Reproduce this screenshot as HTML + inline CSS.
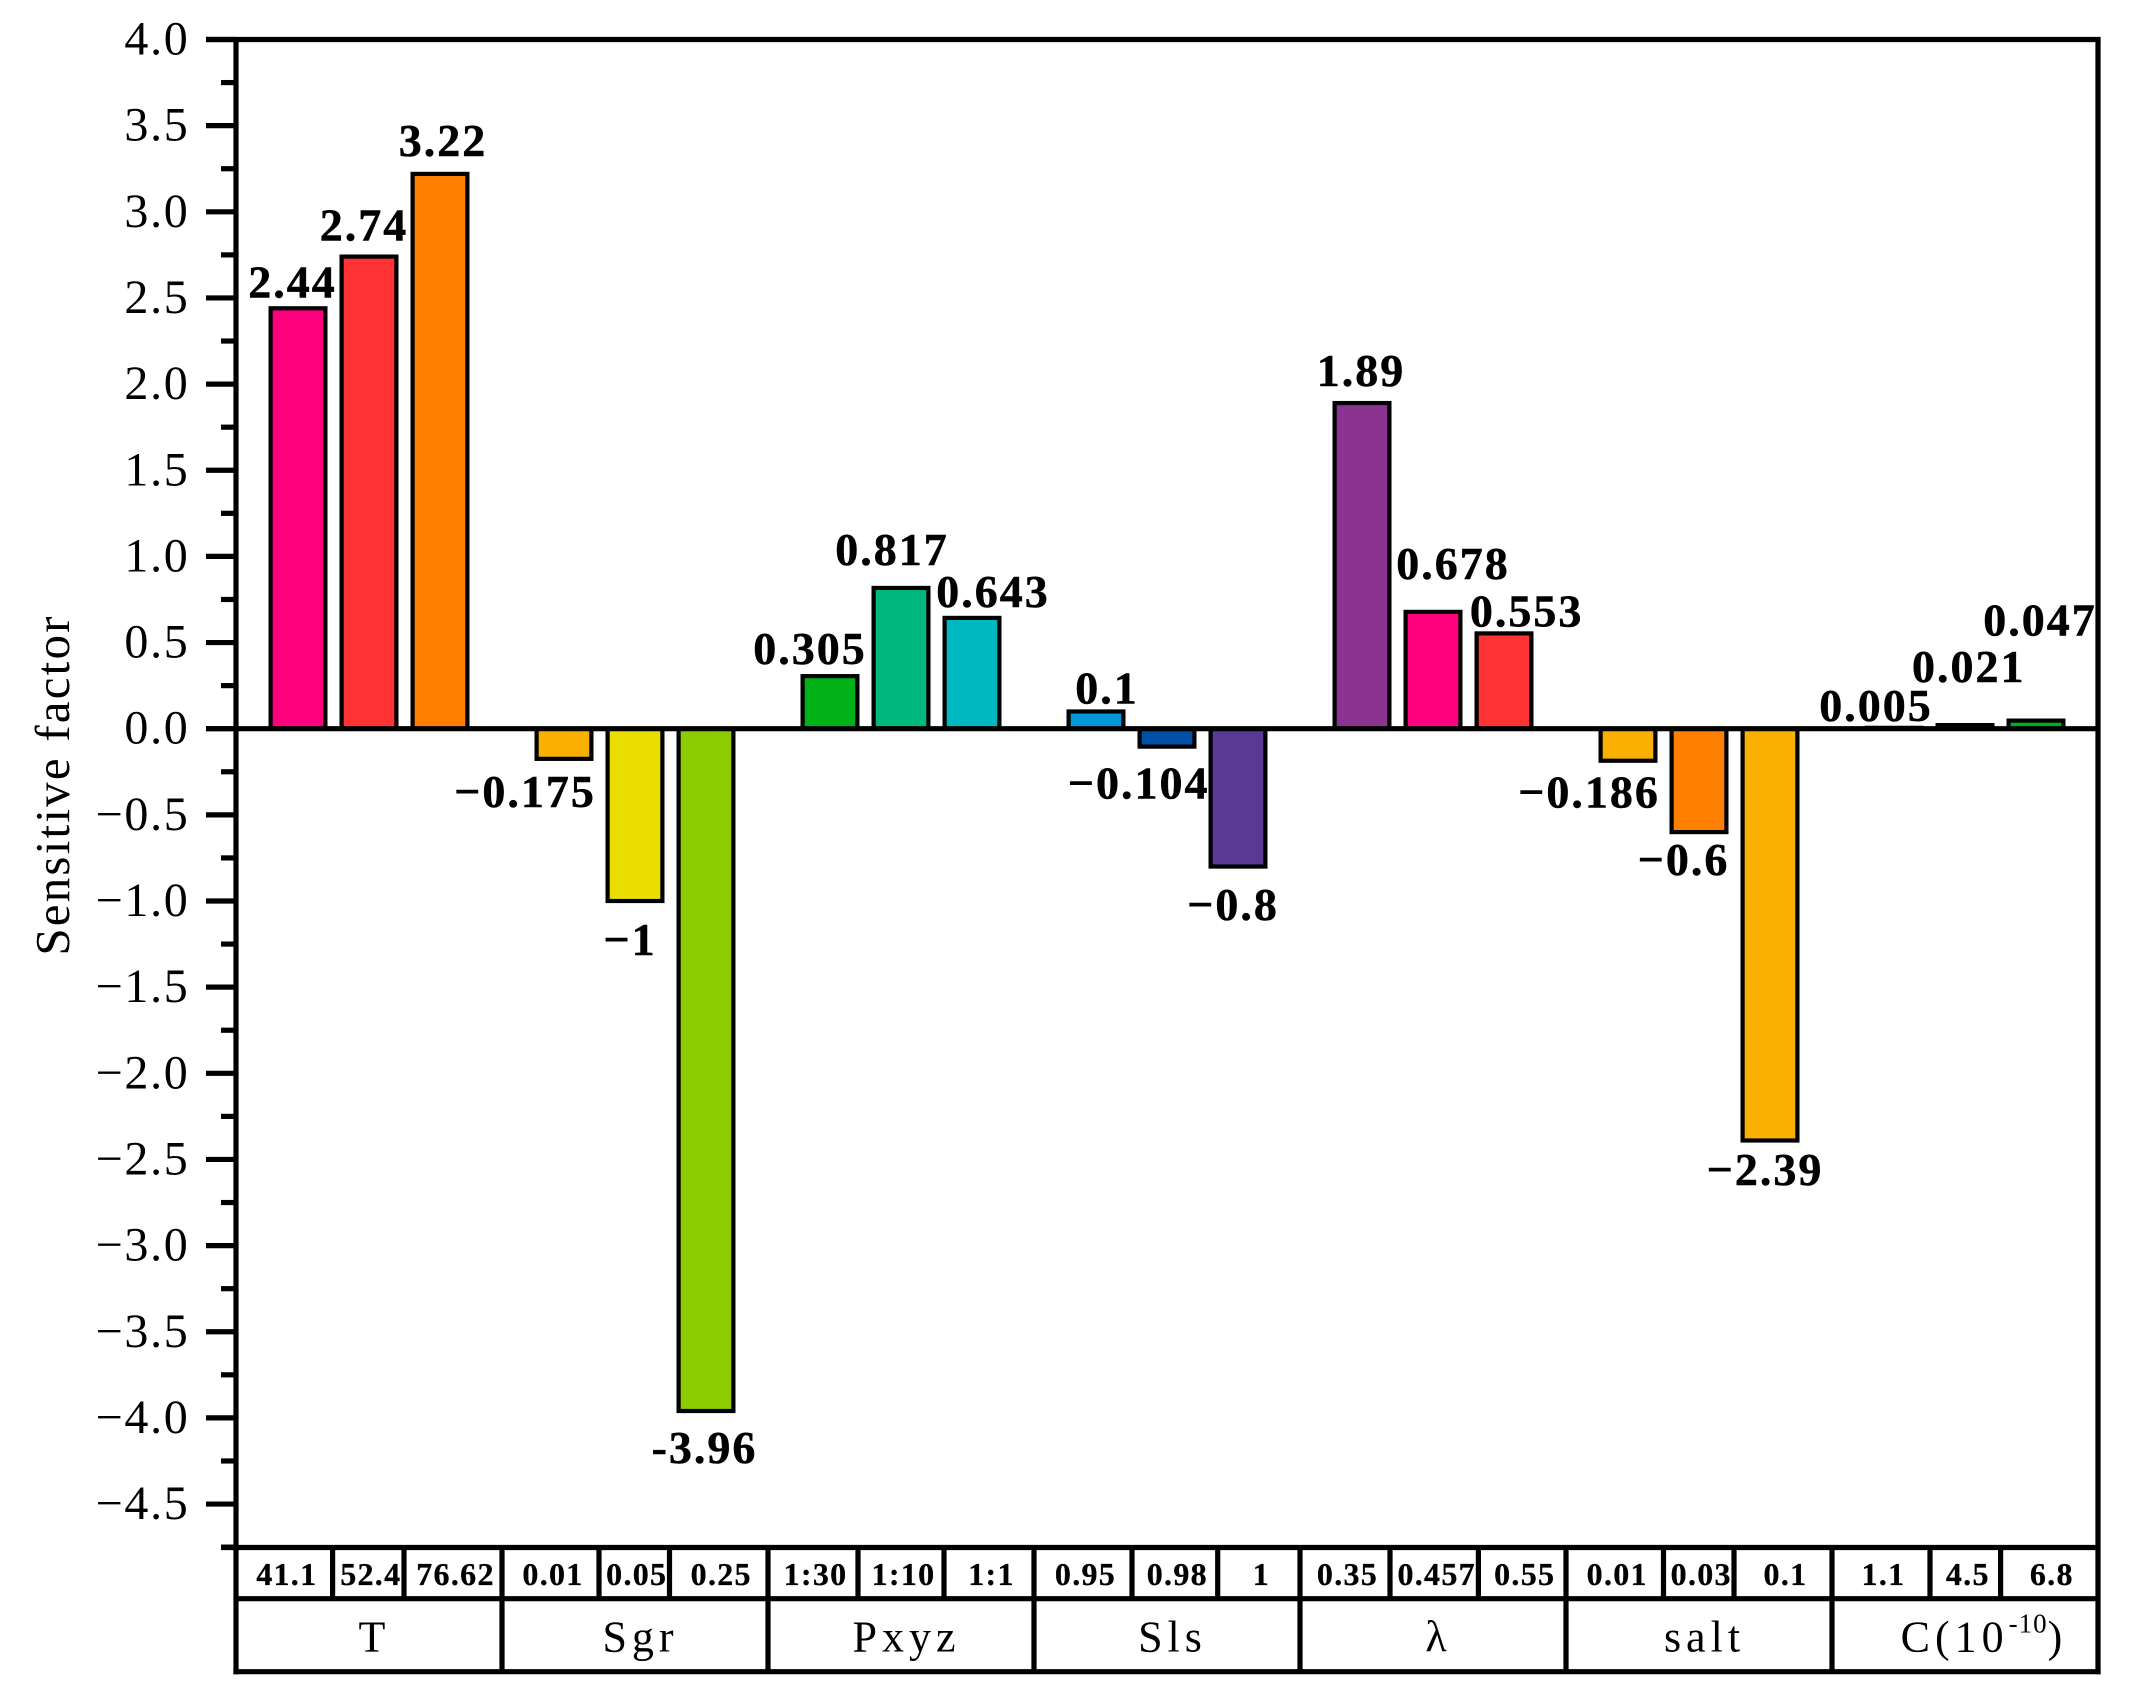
<!DOCTYPE html>
<html lang="en">
<head>
<meta charset="utf-8">
<title>Sensitive factor bar chart</title>
<style>
  html, body { margin: 0; padding: 0; background: #fff; }
  svg { display: block; }
  text { font-family: "Liberation Serif", "DejaVu Serif", serif; fill: #000; }
  .ytick { font-size: 48px; letter-spacing: 1.7px; text-anchor: end; }
  .vlabel { font-size: 46px; font-weight: bold; letter-spacing: 2px; text-anchor: middle; stroke: #000; stroke-width: 0.5px; }
  .sub { font-size: 32px; font-weight: bold; letter-spacing: 1.3px; text-anchor: middle; stroke: #000; stroke-width: 0.3px; }
  .group { font-size: 44px; letter-spacing: 5px; text-anchor: middle; }
</style>
</head>
<body>
<svg id="chart" width="2133" height="1704" viewBox="0 0 2133 1704" xmlns="http://www.w3.org/2000/svg">
  <rect x="0" y="0" width="2133" height="1704" fill="#ffffff"/>
  <g id="bars"></g>
  <g id="axes"></g>
  <g id="value-labels"></g>
  <g id="table"></g>
  <text x="69" y="785" transform="rotate(-90 69 785)" text-anchor="middle" font-size="49" letter-spacing="2.2">Sensitive factor</text>
</svg>
<script>
// ---- chart data ----
const groupNames = ["T", "Sgr", "Pxyz", "Sls", "\u03BB", "salt", "C(10"];
const levelsT = ["41.1", "52.4", "76.62"];
const levelsSgr = ["0.01", "0.05", "0.25"];
const levelsPxyz = ["1:30", "1:10", "1:1"];
const levelsSls = ["0.95", "0.98", "1"];
const levelsLambda = ["0.35", "0.457", "0.55"];
const levelsSalt = ["0.01", "0.03", "0.1"];
const levelsC = ["1.1", "4.5", "6.8"];
const valuesT = [2.44, 2.74, 3.22];
const valuesSgr = [-0.175, -1, -3.96];
const valuesPxyz = [0.305, 0.817, 0.643];
const valuesSls = [0.1, -0.104, -0.8];
const valuesLambda = [1.89, 0.678, 0.553];
const valuesSalt = [-0.186, -0.6, -2.39];
const valuesC = [0.005, 0.021, 0.047];
const printedT = ["2.44", "2.74", "3.22"];
const printedSgr = ["\u22120.175", "\u22121", "-3.96"];
const printedPxyz = ["0.305", "0.817", "0.643"];
const printedSls = ["0.1", "\u22120.104", "\u22120.8"];
const printedLambda = ["1.89", "0.678", "0.553"];
const printedSalt = ["\u22120.186", "\u22120.6", "\u22122.39"];
const printedC = ["0.005", "0.021", "0.047"];
const majorTicks = [4.0, 3.5, 3.0, 2.5, 2.0, 1.5, 1.0, 0.5, 0.0, -0.5, -1.0, -1.5, -2.0, -2.5, -3.0, -3.5, -4.0, -4.5];
const minorTicks = [3.75, 3.25, 2.75, 2.25, 1.75, 1.25, 0.75, 0.25, -0.25, -0.75, -1.25, -1.75, -2.25, -2.75, -3.25, -3.75, -4.25, -4.75];

// ---- styling and layout (not data) ----
const barColors = [
  "#FF007F", "#FF3333", "#FF8000",
  "#F9B000", "#E9DE00", "#8CCC00",
  "#00B218", "#00B87C", "#00B8C0",
  "#0098D8", "#0050A8", "#583A94",
  "#8C3290", "#FF007F", "#FF3333",
  "#F9B000", "#FF8000", "#F9B000",
  "#00B020", "#00B020", "#00B020"
];
// label nudges relative to the top/bottom of each bar
const labelShiftX = [-6.5, -6, 2, -40, -6, -2.5, -21, -10, 20, 10, -29.4, -6, -2, 19, 21.6, -40, -16.5, -6, -19, 2.7, 3];
const labelShiftY = [-11, -16, -18, 48, 54, 52, -12, -23, -11, -8, 52, 53.5, -17, -33, -7, 47, 43, 44.5, -7, -43, -85];
// level-cell divider offsets inside each group of the table
const firstDivider = [96.6, 97, 90, 98, 90, 97.5, 98];
const secondDivider = [168, 167.5, 176, 183.7, 178.4, 168, 168.6];

const allValues = [valuesT, valuesSgr, valuesPxyz, valuesSls, valuesLambda, valuesSalt, valuesC];
const allPrinted = [printedT, printedSgr, printedPxyz, printedSls, printedLambda, printedSalt, printedC];
const allLevels = [levelsT, levelsSgr, levelsPxyz, levelsSls, levelsLambda, levelsSalt, levelsC];

// ---- axis functions ----
const plotLeft = 236, plotRight = 2098, plotTop = 39.5;
const tableTop = 1547.5, tableMid = 1598.7, tableBottom = 1671.7;
const groupWidth = (plotRight - plotLeft) / 7;
const barPitch = 71, barWidth = 54.8, lineW = 5.2;
function y(v) { return 728.7 - 172.3 * v; }
function groupCenter(g) { return plotLeft + groupWidth * (g + 0.5); }
function barCenter(g, b) { return groupCenter(g) + (b - 1) * barPitch; }

const NS = "http://www.w3.org/2000/svg";
function make(tag, attrs, parent, txt) {
  const el = document.createElementNS(NS, tag);
  for (const k in attrs) el.setAttribute(k, attrs[k]);
  if (txt !== undefined) el.textContent = txt;
  parent.appendChild(el);
  return el;
}
function blackLine(x1, y1, x2, y2, parent) {
  return make("line", { x1: x1, y1: y1, x2: x2, y2: y2, stroke: "#000", "stroke-width": lineW }, parent);
}

const barsG = document.getElementById("bars");
const axesG = document.getElementById("axes");
const labelsG = document.getElementById("value-labels");
const tableG = document.getElementById("table");

// bars and value labels
allValues.forEach(function (vals, g) {
  vals.forEach(function (v, b) {
    const i = g * 3 + b;
    const top = Math.min(y(v), y(0));
    const h = Math.abs(y(v) - y(0));
    const rect = make("rect", {
      x: barCenter(g, b) - barWidth / 2, y: top, width: barWidth, height: h,
      fill: barColors[i], stroke: "#000", "stroke-width": 4.2
    }, barsG);
    
    
    const lab = make("text", {
      class: "vlabel", x: barCenter(g, b) + labelShiftX[i] + 1, y: y(v) + labelShiftY[i]
    }, labelsG, allPrinted[g][b]);
    
    
  });
});

// axis frame
const topLine = blackLine(206, plotTop, plotRight + lineW / 2, plotTop, axesG);


const leftLine = blackLine(plotLeft, plotTop, plotLeft, tableBottom + lineW / 2, axesG);


const rightLine = blackLine(plotRight, plotTop, plotRight, tableBottom + lineW / 2, axesG);


const zeroLine = blackLine(206, y(0), plotRight, y(0), axesG);



// ticks
majorTicks.forEach(function (t) {
  const tick = blackLine(206, y(t), plotLeft, y(t), axesG);
  
  
  const s = (t < 0 ? "\u2212" : "") + Math.abs(t).toFixed(1);
  const lab = make("text", { class: "ytick", x: 189.5, y: y(t) + 15 }, axesG, s);
  
  
});
minorTicks.forEach(function (t) {
  const tick = blackLine(221, y(t), plotLeft, y(t), axesG);
  
  
});

// category table
const tTop = blackLine(221, tableTop, plotRight, tableTop, tableG);


const tMid = blackLine(plotLeft, tableMid, plotRight, tableMid, tableG);


const tBot = blackLine(plotLeft - lineW / 2, tableBottom, plotRight + lineW / 2, tableBottom, tableG);



groupNames.forEach(function (name, g) {
  const left = plotLeft + groupWidth * g;
  const right = left + groupWidth;
  if (g > 0) {
    const sep = blackLine(left, tableTop, left, tableBottom, tableG);
    
    
  }
  const d1 = left + firstDivider[g], d2 = left + secondDivider[g];
  [d1, d2].forEach(function (dx) {
    const div = blackLine(dx, tableTop, dx, tableMid, tableG);
    
    
  });
  const cells = [[left, d1], [d1, d2], [d2, right]];
  allLevels[g].forEach(function (lev, b) {
    const cx = (cells[b][0] + cells[b][1]) / 2 + 2.5;
    const t = make("text", { class: "sub", x: cx, y: 1585 }, tableG, lev);
    
    
  });
  const isC = name === "C(10";
  const gl = make("text", { class: "group", x: groupCenter(g) + (isC ? 19 : 5.5), y: 1651.7 }, tableG, name);
  
  
  if (isC) {
    make("tspan", { "font-size": 27, dy: -19, "letter-spacing": 1 }, gl, "-10");
    make("tspan", { dy: 19 }, gl, ")");
  }
});
</script>
</body>
</html>
